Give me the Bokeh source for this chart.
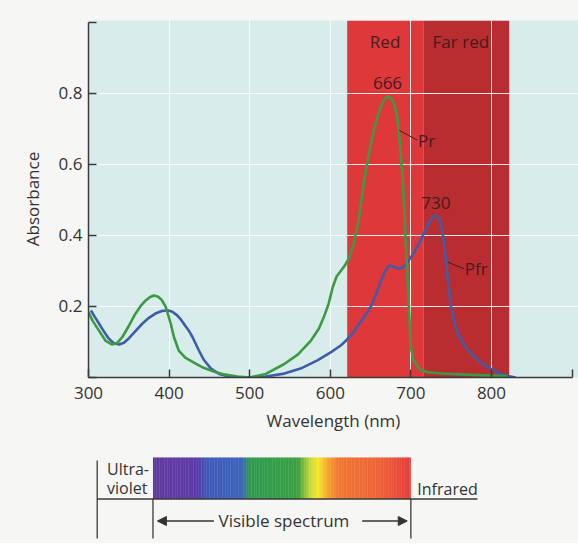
from bokeh.plotting import figure
from bokeh.models import Range1d, FixedTicker, Arrow, NormalHead
from bokeh.layouts import column
from bokeh.core.properties import value
from bokeh.embed import file_html
from bokeh.resources import INLINE

# ---------------- data ----------------
pr_nm = [300, 305, 313, 321, 329, 336, 342, 350, 358, 365,
         371, 376, 381, 386, 391, 396, 402, 406, 412, 420,
         433, 441, 458, 470, 485, 500, 520, 543, 560, 576,
         586, 592, 598, 603, 608, 613, 618, 623, 629, 635,
         642, 648, 654, 660, 665, 669, 673, 677, 680, 683,
         686, 690, 694, 698, 700, 703, 706, 712, 721, 735,
         750, 770, 790, 820]
pr_abs = [0.184, 0.160, 0.132, 0.104, 0.093, 0.098, 0.114, 0.145, 0.179, 0.202,
          0.217, 0.226, 0.231, 0.228, 0.218, 0.198, 0.152, 0.114, 0.076, 0.056,
          0.039, 0.029, 0.015, 0.008, 0.003, 0.000, 0.010, 0.038, 0.065, 0.104,
          0.138, 0.170, 0.208, 0.254, 0.285, 0.300, 0.315, 0.335, 0.377, 0.440,
          0.555, 0.630, 0.696, 0.745, 0.775, 0.788, 0.790, 0.782, 0.765, 0.733,
          0.670, 0.555, 0.367, 0.179, 0.085, 0.050, 0.038, 0.022, 0.015, 0.012,
          0.010, 0.008, 0.006, 0.004]

pfr_nm = [303, 308, 313, 319, 325, 331, 338, 344, 350, 358,
          367, 375, 383, 391, 398, 404, 410, 415, 420, 425,
          429, 433, 437, 443, 452, 462, 474, 487, 500, 520,
          543, 565, 584, 600, 613, 620, 627, 634, 642, 650,
          657, 663, 668, 673, 679, 685, 690, 696, 704, 712,
          718, 724, 729, 734, 739, 742, 745, 748, 750, 754,
          758, 765, 775, 785, 795, 810, 820, 830]
pfr_abs = [0.189, 0.170, 0.152, 0.130, 0.110, 0.097, 0.093, 0.098, 0.110, 0.130,
           0.152, 0.168, 0.180, 0.187, 0.189, 0.185, 0.175, 0.162, 0.146, 0.130,
           0.114, 0.095, 0.076, 0.050, 0.025, 0.010, 0.003, 0.000, 0.000, 0.003,
           0.011, 0.027, 0.048, 0.070, 0.090, 0.105, 0.122, 0.145, 0.170, 0.198,
           0.235, 0.273, 0.300, 0.315, 0.312, 0.306, 0.310, 0.325, 0.352, 0.386,
           0.415, 0.442, 0.456, 0.452, 0.414, 0.360, 0.292, 0.235, 0.198, 0.155,
           0.123, 0.095, 0.067, 0.045, 0.029, 0.012, 0.004, 0.000]

band_names = ["Red", "Far red"]
band_left = [621, 716]
band_right = [716, 822]

peak_labels = ["666", "730"]
peak_label_nm = [671, 731]
peak_label_abs = [0.828, 0.492]

curve_labels = ["Pr", "Pfr"]

visible_range = [380, 700]
spectrum_stops_nm = [380, 400, 435, 447, 490, 500, 560, 575, 585, 598, 610, 660, 700]
spectrum_stops_col = ["#5c3a9c", "#623aa4", "#5a3aa8", "#3e5ab8", "#3a62bc", "#2f9a50",
                      "#3aa040", "#c8d838", "#f8e628", "#f5a030", "#f07632", "#ee6234",
                      "#e63c3c"]

x_ticks = [300, 400, 500, 600, 700, 800, 900]
y_ticks = [0.0, 0.2, 0.4, 0.6, 0.8, 1.0]

# ---------------- style ----------------
FONT = "Open Sans"
PAPER = "#f6f6f4"
PLOT_BG = "#d8ecec"
BAND_COLORS = ["#df383b", "#b92c30"]
GREEN = "#3b9a43"
BLUE = "#3f5ca8"
TEXT = "#333333"
BAND_TEXT = "#451c1c"
AXIS = "#3a3a3a"

X0, X1 = 300, 908
Y0, Y1 = 0.0, 1.005
xr = Range1d(X0, X1)

TOP_H = 439  # 20 + 357 + 62
p = figure(x_range=xr, y_range=Range1d(Y0, Y1),
           frame_width=490, frame_height=357,
           min_border_left=88, min_border_right=0,
           min_border_top=20, min_border_bottom=62,
           output_backend="svg", toolbar_location=None,
           background_fill_color=PLOT_BG, border_fill_color=PAPER,
           outline_line_color=None)

# bands
p.quad(left=band_left, right=band_right, bottom=Y0, top=Y1,
       fill_color=BAND_COLORS, line_color=None, level="image")

# grid
p.xgrid.ticker = FixedTicker(ticks=x_ticks[1:-1])
p.ygrid.ticker = FixedTicker(ticks=y_ticks[1:-1])
p.grid.grid_line_color = "white"
p.grid.grid_line_width = 1
p.grid.grid_line_alpha = 0.9

# axes
for ax in (p.xaxis, p.yaxis):
    ax.axis_line_color = AXIS
    ax.axis_line_width = 1.5
    ax.major_tick_line_color = AXIS
    ax.major_tick_line_width = 1.5
    ax.major_tick_in = 8
    ax.major_tick_out = 0
    ax.minor_tick_line_color = None
    ax.major_label_text_font = FONT
    ax.major_label_text_font_size = "17px"
    ax.major_label_text_color = TEXT
    ax.axis_label_text_font = FONT
    ax.axis_label_text_font_size = "17px"
    ax.axis_label_text_font_style = "normal"
    ax.axis_label_text_color = TEXT

p.xaxis.ticker = FixedTicker(ticks=x_ticks)
p.xaxis.bounds = (x_ticks[0], x_ticks[-1])
p.xaxis.major_label_overrides = {900: ""}
p.xaxis.axis_label = "Wavelength (nm)"
p.xaxis.major_label_standoff = 9
p.xaxis.axis_label_standoff = 7

p.yaxis.ticker = FixedTicker(ticks=y_ticks)
p.yaxis.bounds = (y_ticks[0], y_ticks[-1])
p.yaxis.major_label_overrides = {0: "", 1: ""}
p.yaxis.axis_label = "Absorbance"
p.yaxis.major_label_standoff = 6
p.yaxis.axis_label_standoff = 12

# curves
p.line(pfr_nm, pfr_abs, line_color=BLUE, line_width=2.6, line_join="round")
p.line(pr_nm, pr_abs, line_color=GREEN, line_width=2.6, line_join="round")

# band labels
p.text(x=[668, 762], y=[0.947, 0.947], text=band_names,
       text_font=value(FONT), text_font_size="17px", text_color=BAND_TEXT,
       text_align="center", text_baseline="middle")

# peak labels
p.text(x=peak_label_nm, y=peak_label_abs, text=peak_labels,
       text_font=value(FONT), text_font_size="17px", text_color=BAND_TEXT,
       text_align="center", text_baseline="middle")

# curve labels with leader lines
p.segment(x0=[685.5, 745.6], y0=[0.696, 0.325], x1=[708.0, 766.0], y1=[0.668, 0.306],
          line_color=BAND_TEXT, line_width=1)
p.text(x=[709, 767], y=[0.668, 0.308], text=curve_labels,
       text_font=value(FONT), text_font_size="17px", text_color=BAND_TEXT,
       text_align="left", text_baseline="middle")

# ---------------- spectrum strip ----------------
BOT_H = 104
p2 = figure(x_range=xr, y_range=Range1d(TOP_H + BOT_H, TOP_H),
            frame_width=490, frame_height=BOT_H,
            min_border_left=88, min_border_right=0,
            min_border_top=0, min_border_bottom=0,
            x_axis_type=None, y_axis_type=None,
            output_backend="svg", toolbar_location=None,
            background_fill_color=PAPER, border_fill_color=PAPER,
            outline_line_color=None)


def hex2rgb(h):
    h = h.lstrip("#")
    return tuple(int(h[i:i + 2], 16) for i in (0, 2, 4))


def color_at(nm):
    for i in range(len(spectrum_stops_nm) - 1):
        a, b = spectrum_stops_nm[i], spectrum_stops_nm[i + 1]
        if a <= nm <= b:
            t = (nm - a) / (b - a)
            c1, c2 = hex2rgb(spectrum_stops_col[i]), hex2rgb(spectrum_stops_col[i + 1])
            return "#%02x%02x%02x" % tuple(int(round(c1[k] + (c2[k] - c1[k]) * t)) for k in range(3))
    return spectrum_stops_col[-1]


step = 2
lefts = list(range(visible_range[0], visible_range[1], step))
rights = [l + step + 0.4 for l in lefts]
rights[-1] = visible_range[1]
cols = [color_at(l + step / 2) for l in lefts]
p2.quad(left=lefts, right=rights, top=457, bottom=498.5, fill_color=cols, line_color=None)

# frame lines
p2.segment(x0=[310.8, 310.8, visible_range[0], visible_range[1]],
           y0=[498.5, 460, 498.5, 498.5],
           x1=[782.6, 310.8, visible_range[0], visible_range[1]],
           y1=[498.5, 538, 538, 538],
           line_color=AXIS, line_width=1.3)

p2.text(x=[323, 323], y=[468, 487], text=["Ultra-", "violet"],
        text_font=value(FONT), text_font_size="16px", text_color=TEXT,
        text_align="left", text_baseline="middle")
p2.text(x=[708], y=[488], text=["Infrared"],
        text_font=value(FONT), text_font_size="16px", text_color=TEXT,
        text_align="left", text_baseline="middle")
p2.text(x=[542.5], y=[520], text=["Visible spectrum"],
        text_font=value(FONT), text_font_size="17px", text_color=TEXT,
        text_align="center", text_baseline="middle")

p2.add_layout(Arrow(x_start=455.6, y_start=520.5, x_end=385.5, y_end=520.5,
                    line_color=TEXT, line_width=1.3,
                    end=NormalHead(size=9, fill_color=TEXT, line_color=TEXT)))
p2.add_layout(Arrow(x_start=639.6, y_start=520.5, x_end=695.5, y_end=520.5,
                    line_color=TEXT, line_width=1.3,
                    end=NormalHead(size=9, fill_color=TEXT, line_color=TEXT)))

layout = column(p, p2, spacing=0, styles={"background-color": PAPER})
open("out.html", "w").write(file_html(layout, INLINE))
